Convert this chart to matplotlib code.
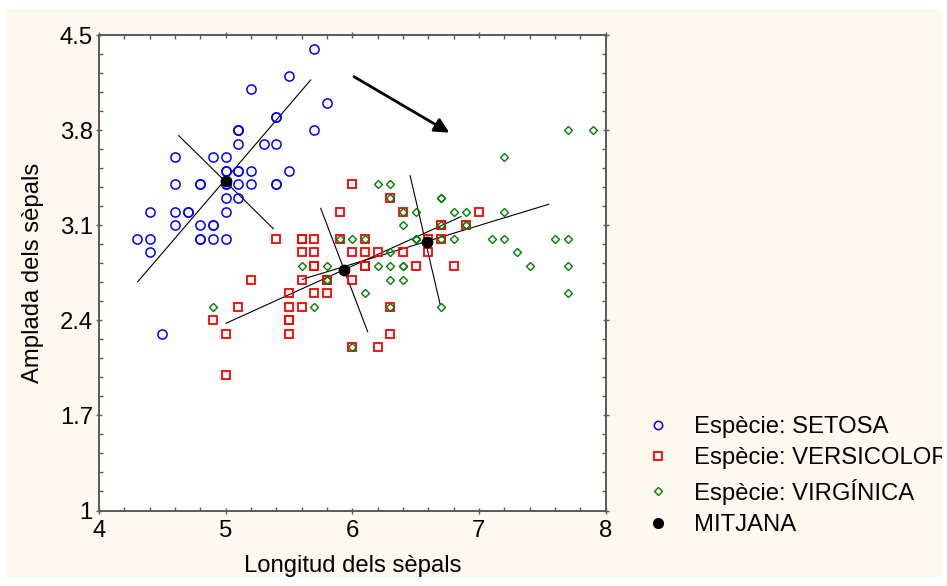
import matplotlib
matplotlib.use("Agg")
import matplotlib.pyplot as plt
from matplotlib.lines import Line2D
from matplotlib.patches import Rectangle, FancyArrowPatch

plt.rcParams["font.family"] = ["Liberation Sans", "DejaVu Sans"]

# sepal length / width per species
setosa_len = [5.1, 4.9, 4.7, 4.6, 5.0, 5.4, 4.6, 5.0, 4.4, 4.9,
              5.4, 4.8, 4.8, 4.3, 5.8, 5.7, 5.4, 5.1, 5.7, 5.1,
              5.4, 5.1, 4.6, 5.1, 4.8, 5.0, 5.0, 5.2, 5.2, 4.7,
              4.8, 5.4, 5.2, 5.5, 4.9, 5.0, 5.5, 4.9, 4.4, 5.1,
              5.0, 4.5, 4.4, 5.0, 5.1, 4.8, 5.1, 4.6, 5.3, 5.0]
setosa_wid = [3.5, 3.0, 3.2, 3.1, 3.6, 3.9, 3.4, 3.4, 2.9, 3.1,
              3.7, 3.4, 3.0, 3.0, 4.0, 4.4, 3.9, 3.5, 3.8, 3.8,
              3.4, 3.7, 3.6, 3.3, 3.4, 3.0, 3.4, 3.5, 3.4, 3.2,
              3.1, 3.4, 4.1, 4.2, 3.1, 3.2, 3.5, 3.6, 3.0, 3.4,
              3.5, 2.3, 3.2, 3.5, 3.8, 3.0, 3.8, 3.2, 3.7, 3.3]

versicolor_len = [7.0, 6.4, 6.9, 5.5, 6.5, 5.7, 6.3, 4.9, 6.6, 5.2,
                  5.0, 5.9, 6.0, 6.1, 5.6, 6.7, 5.6, 5.8, 6.2, 5.6,
                  5.9, 6.1, 6.3, 6.1, 6.4, 6.6, 6.8, 6.7, 6.0, 5.7,
                  5.5, 5.5, 5.8, 6.0, 5.4, 6.0, 6.7, 6.3, 5.6, 5.5,
                  5.5, 6.1, 5.8, 5.0, 5.6, 5.7, 5.7, 6.2, 5.1, 5.7]
versicolor_wid = [3.2, 3.2, 3.1, 2.3, 2.8, 2.8, 3.3, 2.4, 2.9, 2.7,
                  2.0, 3.0, 2.2, 2.9, 2.9, 3.1, 3.0, 2.7, 2.2, 2.5,
                  3.2, 2.8, 2.5, 2.8, 2.9, 3.0, 2.8, 3.0, 2.9, 2.6,
                  2.4, 2.4, 2.7, 2.7, 3.0, 3.4, 3.1, 2.3, 3.0, 2.5,
                  2.6, 3.0, 2.6, 2.3, 2.7, 3.0, 2.9, 2.9, 2.5, 2.8]

virginica_len = [6.3, 5.8, 7.1, 6.3, 6.5, 7.6, 4.9, 7.3, 6.7, 7.2,
                 6.5, 6.4, 6.8, 5.7, 5.8, 6.4, 6.5, 7.7, 7.7, 6.0,
                 6.9, 5.6, 7.7, 6.3, 6.7, 7.2, 6.2, 6.1, 6.4, 7.2,
                 7.4, 7.9, 6.4, 6.3, 6.1, 7.7, 6.3, 6.4, 6.0, 6.9,
                 6.7, 6.9, 5.8, 6.8, 6.7, 6.7, 6.3, 6.5, 6.2, 5.9]
virginica_wid = [3.3, 2.7, 3.0, 2.9, 3.0, 3.0, 2.5, 2.9, 2.5, 3.6,
                 3.2, 2.7, 3.0, 2.5, 2.8, 3.2, 3.0, 3.8, 2.6, 2.2,
                 3.2, 2.8, 2.8, 2.7, 3.3, 3.2, 2.8, 3.0, 2.8, 3.0,
                 2.8, 3.8, 2.8, 2.8, 2.6, 3.0, 3.4, 3.1, 3.0, 3.1,
                 3.1, 3.1, 2.7, 3.2, 3.3, 3.0, 2.5, 3.0, 3.4, 3.0]

# species means (length, width)
mean_len = [5.006, 5.936, 6.588]
mean_wid = [3.428, 2.770, 2.974]

# principal axes through each mean: (x0, x1), (y0, y1)
axis_segments = [
    ((4.306, 5.672), (2.684, 4.169)),   # setosa major
    ((4.630, 5.377), (3.759, 3.074)),   # setosa minor
    ((5.003, 6.859), (2.378, 3.163)),   # versicolor major
    ((5.751, 6.122), (3.224, 2.316)),   # versicolor minor
    ((5.606, 7.552), (2.702, 3.254)),   # virginica major
    ((6.457, 6.694), (3.464, 2.518)),   # virginica minor
]

arrow_start = (6.014, 4.193)
arrow_end = (6.767, 3.781)

x_ticks = [4, 5, 6, 7, 8]
y_ticks = [1, 1.7, 2.4, 3.1, 3.8, 4.5]
y_tick_labels = ["1", "1.7", "2.4", "3.1", "3.8", "4.5"]

legend_labels = ["Espècie: SETOSA", "Espècie: VERSICOLOR",
                 "Espècie: VIRGÍNICA", "MITJANA"]

W, H = 947, 586
cream = "#FEF9EE"
spine_col = "#5a5a5a"
fs = 17.2

fig = plt.figure(figsize=(W / 100, H / 100), dpi=100, facecolor="white")
fig.patches.append(Rectangle((7 / W, 1 - 577 / H), (941.7 - 7) / W, (577 - 9) / H,
                             transform=fig.transFigure, facecolor=cream,
                             edgecolor="none", zorder=-10))

ax = fig.add_axes([99 / W, 1 - 510.5 / H, (605.5 - 99) / W, (510.5 - 35) / H])
ax.set_facecolor("white")

for (xs, ys) in axis_segments:
    ax.plot(xs, ys, color="black", lw=0.8, zorder=2)

ax.plot(setosa_len, setosa_wid, ls="none", marker="o", ms=6.6, mfc="none",
        mec="#0000FF", mew=1.1, zorder=3)
ax.plot(versicolor_len, versicolor_wid, ls="none", marker="s", ms=6.4, mfc="none",
        mec="#FF0000", mew=1.3, zorder=3)
ax.plot(virginica_len, virginica_wid, ls="none", marker="D", ms=4.3, mfc="none",
        mec="#008000", mew=1.0, zorder=4)
ax.plot(mean_len, mean_wid, ls="none", marker="o", ms=7.5, color="black", zorder=5)

ax.add_patch(FancyArrowPatch(arrow_start, arrow_end, arrowstyle="-|>",
                             mutation_scale=22, lw=2.0, color="black",
                             shrinkA=0, shrinkB=0, zorder=6))

ax.set_xlim(4, 8)
ax.set_ylim(1, 4.5)
ax.set_xticks(x_ticks)
ax.set_xticklabels([str(v) for v in x_ticks])
ax.set_yticks(y_ticks)
ax.set_yticklabels(y_tick_labels)
ax.set_xticks([4 + 0.2 * i for i in range(21)], minor=True)
ax.set_yticks([1 + 0.14 * i for i in range(26)], minor=True)
ax.tick_params(which="major", direction="inout", length=5, width=1.0,
               color=spine_col, labelsize=fs, top=True, right=True)
ax.tick_params(axis="x", which="major", pad=4)
ax.tick_params(axis="y", which="major", pad=2)
ax.tick_params(which="minor", direction="in", length=3, width=1.0,
               color=spine_col, top=True, right=True)
for sp in ax.spines.values():
    sp.set_color(spine_col)
    sp.set_linewidth(1.4)

ax.set_xlabel("Longitud dels sèpals", fontsize=fs, labelpad=10)
ax.set_ylabel("Amplada dels sèpals", fontsize=fs, labelpad=11)

handles = [
    Line2D([], [], ls="none", marker="o", ms=6, mfc="none", mec="#0000FF", mew=1.1),
    Line2D([], [], ls="none", marker="s", ms=6, mfc="none", mec="#FF0000", mew=1.3),
    Line2D([], [], ls="none", marker="D", ms=4.3, mfc="none", mec="#008000", mew=1.0),
    Line2D([], [], ls="none", marker="o", ms=7, color="black"),
]
ax.legend(handles, legend_labels, loc="upper left",
          bbox_to_anchor=(646 / W, 1 - 416 / H), bbox_transform=fig.transFigure,
          frameon=False, fontsize=fs, handlelength=1.0, handletextpad=1.0,
          labelspacing=0.39, borderpad=0, borderaxespad=0)

# white margin on the right clips the legend text
fig.patches.append(Rectangle((941.7 / W, 0), 1 - 941.7 / W, 1,
                             transform=fig.transFigure, facecolor="white",
                             edgecolor="none", zorder=20))

fig.savefig("out.png", dpi=100, facecolor=fig.get_facecolor())
